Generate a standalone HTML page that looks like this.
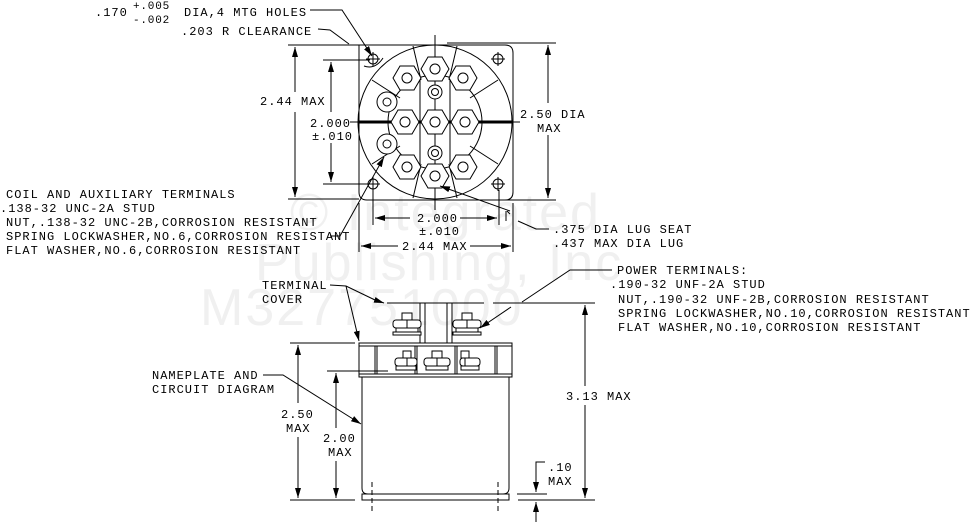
<!DOCTYPE html>
<html><head><meta charset="utf-8"><style>
html,body{margin:0;padding:0;background:#fff;}
svg{display:block;}
text{font-family:"Liberation Mono",monospace;font-size:12px;letter-spacing:1.0px;fill:#000;}
.s{font-size:11px;letter-spacing:0.8px;}
.wm{font-family:"Liberation Sans",sans-serif;font-size:52px;fill:#f0f0f0;letter-spacing:2px;}
</style></head><body>
<svg width="971" height="525" viewBox="0 0 971 525" xmlns="http://www.w3.org/2000/svg">
<defs>
<marker id="a" viewBox="0 0 10 6" refX="10" refY="3" markerWidth="10" markerHeight="6" markerUnits="userSpaceOnUse" orient="auto"><path d="M0,0 L10,3 L0,6 z" fill="#000"/></marker>
<marker id="b" viewBox="0 0 10 6" refX="10" refY="3" markerWidth="13" markerHeight="6" markerUnits="userSpaceOnUse" orient="auto"><path d="M0,0 L10,3 L0,6 z" fill="#000"/></marker>
</defs>
<text class="wm" x="290" y="230">© Integrated</text>
<text class="wm" x="255" y="280">Publishing, Inc</text>
<text class="wm" x="200" y="325">M327751000</text>

<g stroke="#000" stroke-width="1" fill="none">
<path d="M359,45 H505 Q513,45 513,53 V192 Q513,200 505,200 H367 Q359,200 359,192 Z"/>
<circle cx="435" cy="122" r="77"/>
<circle cx="435" cy="122" r="47"/>
<line x1="435" y1="35" x2="435" y2="210"/>
<line x1="350" y1="122" x2="520" y2="122"/>
<line x1="359" y1="121" x2="513" y2="121"/>
<line x1="359" y1="123" x2="513" y2="123"/>
<line x1="413" y1="46" x2="421" y2="80"/><line x1="457" y1="46" x2="449" y2="80"/>
<line x1="413" y1="198" x2="421" y2="164"/><line x1="457" y1="198" x2="449" y2="164"/>
<line x1="372" y1="80" x2="400" y2="98"/><line x1="498" y1="80" x2="470" y2="98"/>
<line x1="372" y1="164" x2="400" y2="146"/><line x1="498" y1="164" x2="470" y2="146"/>
<line x1="420" y1="80" x2="420" y2="164"/><line x1="450" y1="80" x2="450" y2="164"/>
<g fill="#fff">
<polygon points="449,122 442,134 428,134 421,122 428,110 442,110"/>
<polygon points="419,122 412,134 398,134 391,122 398,110 412,110"/>
<polygon points="479,122 472,134 458,134 451,122 458,110 472,110"/>
<polygon points="449,69 442,81 428,81 421,69 428,57 442,57"/>
<polygon points="449,176 442,188 428,188 421,176 428,164 442,164"/>
<polygon points="421,78 414,90 400,90 393,78 400,66 414,66"/>
<polygon points="477,78 470,90 456,90 449,78 456,66 470,66"/>
<polygon points="421,167 414,179 400,179 393,167 400,155 414,155"/>
<polygon points="477,167 470,179 456,179 449,167 456,155 470,155"/>
<circle cx="387" cy="102" r="10"/><circle cx="387" cy="144" r="10"/>
<circle cx="435" cy="92" r="7"/><circle cx="435" cy="153" r="7"/>
</g>
<circle cx="435" cy="122" r="5"/><circle cx="405" cy="122" r="5"/><circle cx="465" cy="122" r="5"/>
<circle cx="435" cy="69" r="5"/><circle cx="435" cy="176" r="5"/>
<circle cx="407" cy="78" r="5"/><circle cx="463" cy="78" r="5"/><circle cx="407" cy="167" r="5"/><circle cx="463" cy="167" r="5"/>
<circle cx="387" cy="102" r="4"/><circle cx="387" cy="144" r="4"/>
<circle cx="435" cy="92" r="3.5"/><circle cx="435" cy="153" r="3.5"/>
<circle cx="373" cy="59" r="5"/><path d="M366,59h14M373,52v14"/>
<circle cx="498" cy="59" r="5"/><path d="M491,59h14M498,52v14"/>
<circle cx="373" cy="184" r="5"/><path d="M366,184h14M373,177v14"/>
<circle cx="498" cy="184" r="5"/><path d="M491,184h14M498,177v14"/>
<path d="M364,66 Q375,70 383,58"/>

<line x1="288" y1="45" x2="359" y2="45"/><line x1="288" y1="199" x2="359" y2="199"/>
<line x1="295" y1="92" x2="295" y2="47" marker-end="url(#b)"/><line x1="295" y1="112" x2="295" y2="197" marker-end="url(#b)"/>
<line x1="323" y1="60" x2="370" y2="60"/><line x1="323" y1="184" x2="370" y2="184"/>
<line x1="331" y1="112" x2="331" y2="62" marker-end="url(#b)"/><line x1="331" y1="143" x2="331" y2="182" marker-end="url(#b)"/>
<line x1="352" y1="122" x2="359" y2="122"/>
<line x1="447" y1="43" x2="556" y2="43"/><line x1="453" y1="200" x2="556" y2="200"/>
<line x1="548" y1="103" x2="548" y2="45" marker-end="url(#b)"/><line x1="548" y1="135" x2="548" y2="198" marker-end="url(#b)"/>
<line x1="373" y1="190" x2="373" y2="225"/><line x1="499" y1="190" x2="499" y2="225"/>
<line x1="410" y1="218" x2="375" y2="218" marker-end="url(#b)"/><line x1="460" y1="218" x2="497" y2="218" marker-end="url(#b)"/>
<line x1="359" y1="203" x2="359" y2="252"/><line x1="513" y1="203" x2="513" y2="252"/>
<line x1="398" y1="246" x2="361" y2="246" marker-end="url(#b)"/><line x1="470" y1="246" x2="511" y2="246" marker-end="url(#b)"/>
<line x1="506" y1="211" x2="506" y2="221"/><path d="M507,211 l3,3"/>
<polyline points="310,10 342,10 372,56" marker-end="url(#a)"/>
<polyline points="318,29 330,30 349,44"/>
<polyline points="330,236 340,236 384,157" marker-end="url(#a)"/>
<polyline points="549,229 536,229 518,221"/>
<polyline points="510,211 440,186" marker-end="url(#a)"/>

<line x1="387" y1="303" x2="484" y2="303"/>
<rect x="420" y="303" width="5" height="40"/><rect x="447" y="303" width="5" height="40"/>
<rect x="359" y="343" width="153" height="34"/>
<line x1="359" y1="346" x2="512" y2="346"/><line x1="359" y1="374" x2="512" y2="374"/>
<line x1="375" y1="346" x2="375" y2="374"/><line x1="377" y1="346" x2="377" y2="374"/>
<line x1="415" y1="346" x2="415" y2="374"/><line x1="417" y1="346" x2="417" y2="374"/>
<line x1="455" y1="346" x2="455" y2="374"/><line x1="457" y1="346" x2="457" y2="374"/>
<line x1="495" y1="346" x2="495" y2="374"/><line x1="497" y1="346" x2="497" y2="374"/>
<path d="M362,377 V488 Q362,494 368,494 H503 Q509,494 509,488 V377"/>
<rect x="362" y="494" width="147" height="6"/>
<line x1="372" y1="482" x2="372" y2="512" stroke-dasharray="5,3"/>
<line x1="498" y1="482" x2="498" y2="512" stroke-dasharray="5,3"/>
<g fill="#fff">
<rect x="393" y="320" width="28" height="8" rx="3"/><rect x="402" y="313" width="10" height="7"/><rect x="396" y="328" width="22" height="4"/><rect x="393" y="332" width="28" height="3"/>
<rect x="453" y="320" width="28" height="8" rx="3"/><rect x="462" y="313" width="10" height="7"/><rect x="456" y="328" width="22" height="4"/><rect x="453" y="332" width="28" height="3"/>
<rect x="395" y="358" width="22" height="8" rx="3"/><rect x="403" y="351" width="8" height="7"/><rect x="396" y="366" width="20" height="4"/>
<rect x="424" y="358" width="26" height="8" rx="3"/><rect x="432" y="351" width="10" height="7"/><rect x="426" y="366" width="22" height="4"/>
<rect x="460" y="358" width="20" height="8" rx="3"/><rect x="461" y="351" width="8" height="7"/><rect x="461" y="366" width="18" height="4"/>
</g>
<line x1="407" y1="320" x2="407" y2="328"/><line x1="467" y1="320" x2="467" y2="328"/>
<line x1="407" y1="358" x2="407" y2="366"/><line x1="437" y1="358" x2="437" y2="366"/><line x1="465" y1="358" x2="465" y2="366"/>
<line x1="290" y1="343" x2="355" y2="343"/><line x1="290" y1="500" x2="355" y2="500"/>
<line x1="298" y1="403" x2="298" y2="345" marker-end="url(#b)"/><line x1="298" y1="437" x2="298" y2="498" marker-end="url(#b)"/>
<line x1="327" y1="371" x2="388" y2="371"/>
<line x1="336" y1="428" x2="336" y2="373" marker-end="url(#b)"/><line x1="336" y1="461" x2="336" y2="498" marker-end="url(#b)"/>
<line x1="493" y1="303" x2="595" y2="303"/><line x1="518" y1="500" x2="595" y2="500"/>
<line x1="585" y1="386" x2="585" y2="305" marker-end="url(#b)"/><line x1="585" y1="405" x2="585" y2="498" marker-end="url(#b)"/>
<line x1="517" y1="494" x2="547" y2="494"/>
<polyline points="545,462 536,462 536,492" marker-end="url(#b)"/>
<line x1="536" y1="522" x2="536" y2="502" marker-end="url(#b)"/>
<polyline points="330,285 346,286 375,300" /><line x1="375" y1="300" x2="384" y2="303" marker-end="url(#a)"/>
<line x1="346" y1="286" x2="359" y2="341" marker-end="url(#a)"/>
<polyline points="263,375 283,375 361,424" marker-end="url(#a)"/>
<polyline points="612,270 570,270 522,302"/>
<line x1="511" y1="307" x2="480" y2="328" marker-end="url(#a)"/>
</g>

<text x="95" y="16">.170</text>
<text class="s" x="133" y="9">+.005</text>
<text class="s" x="133" y="23">-.002</text>
<text x="184" y="16">DIA,4 MTG HOLES</text>
<text x="181" y="35">.203 R CLEARANCE</text>
<text x="260" y="105">2.44 MAX</text>
<text x="310" y="127">2.000</text>
<text x="312" y="140">±.010</text>
<text x="520" y="118">2.50 DIA</text>
<text x="537" y="132">MAX</text>
<text x="417" y="222">2.000</text>
<text x="419" y="235">±.010</text>
<text x="402" y="250">2.44 MAX</text>
<text x="6" y="198">COIL AND AUXILIARY TERMINALS</text>
<text x="0" y="212">.138-32 UNC-2A STUD</text>
<text x="6" y="226">NUT,.138-32 UNC-2B,CORROSION RESISTANT</text>
<text x="6" y="240">SPRING LOCKWASHER,NO.6,CORROSION RESISTANT</text>
<text x="6" y="254">FLAT WASHER,NO.6,CORROSION RESISTANT</text>
<text x="553" y="233">.375 DIA LUG SEAT</text>
<text x="553" y="247">.437 MAX DIA LUG</text>
<text x="617" y="274">POWER TERMINALS:</text>
<text x="610" y="288">.190-32 UNF-2A STUD</text>
<text x="618" y="303">NUT,.190-32 UNF-2B,CORROSION RESISTANT</text>
<text x="618" y="317">SPRING LOCKWASHER,NO.10,CORROSION RESISTANT</text>
<text x="618" y="331">FLAT WASHER,NO.10,CORROSION RESISTANT</text>
<text x="262" y="289">TERMINAL</text>
<text x="262" y="303">COVER</text>
<text x="152" y="379">NAMEPLATE AND</text>
<text x="152" y="393">CIRCUIT DIAGRAM</text>
<text x="281" y="418">2.50</text>
<text x="286" y="432">MAX</text>
<text x="323" y="442">2.00</text>
<text x="328" y="456">MAX</text>
<text x="566" y="400">3.13 MAX</text>
<text x="548" y="471">.10</text>
<text x="548" y="485">MAX</text>
</svg>
</body></html>
